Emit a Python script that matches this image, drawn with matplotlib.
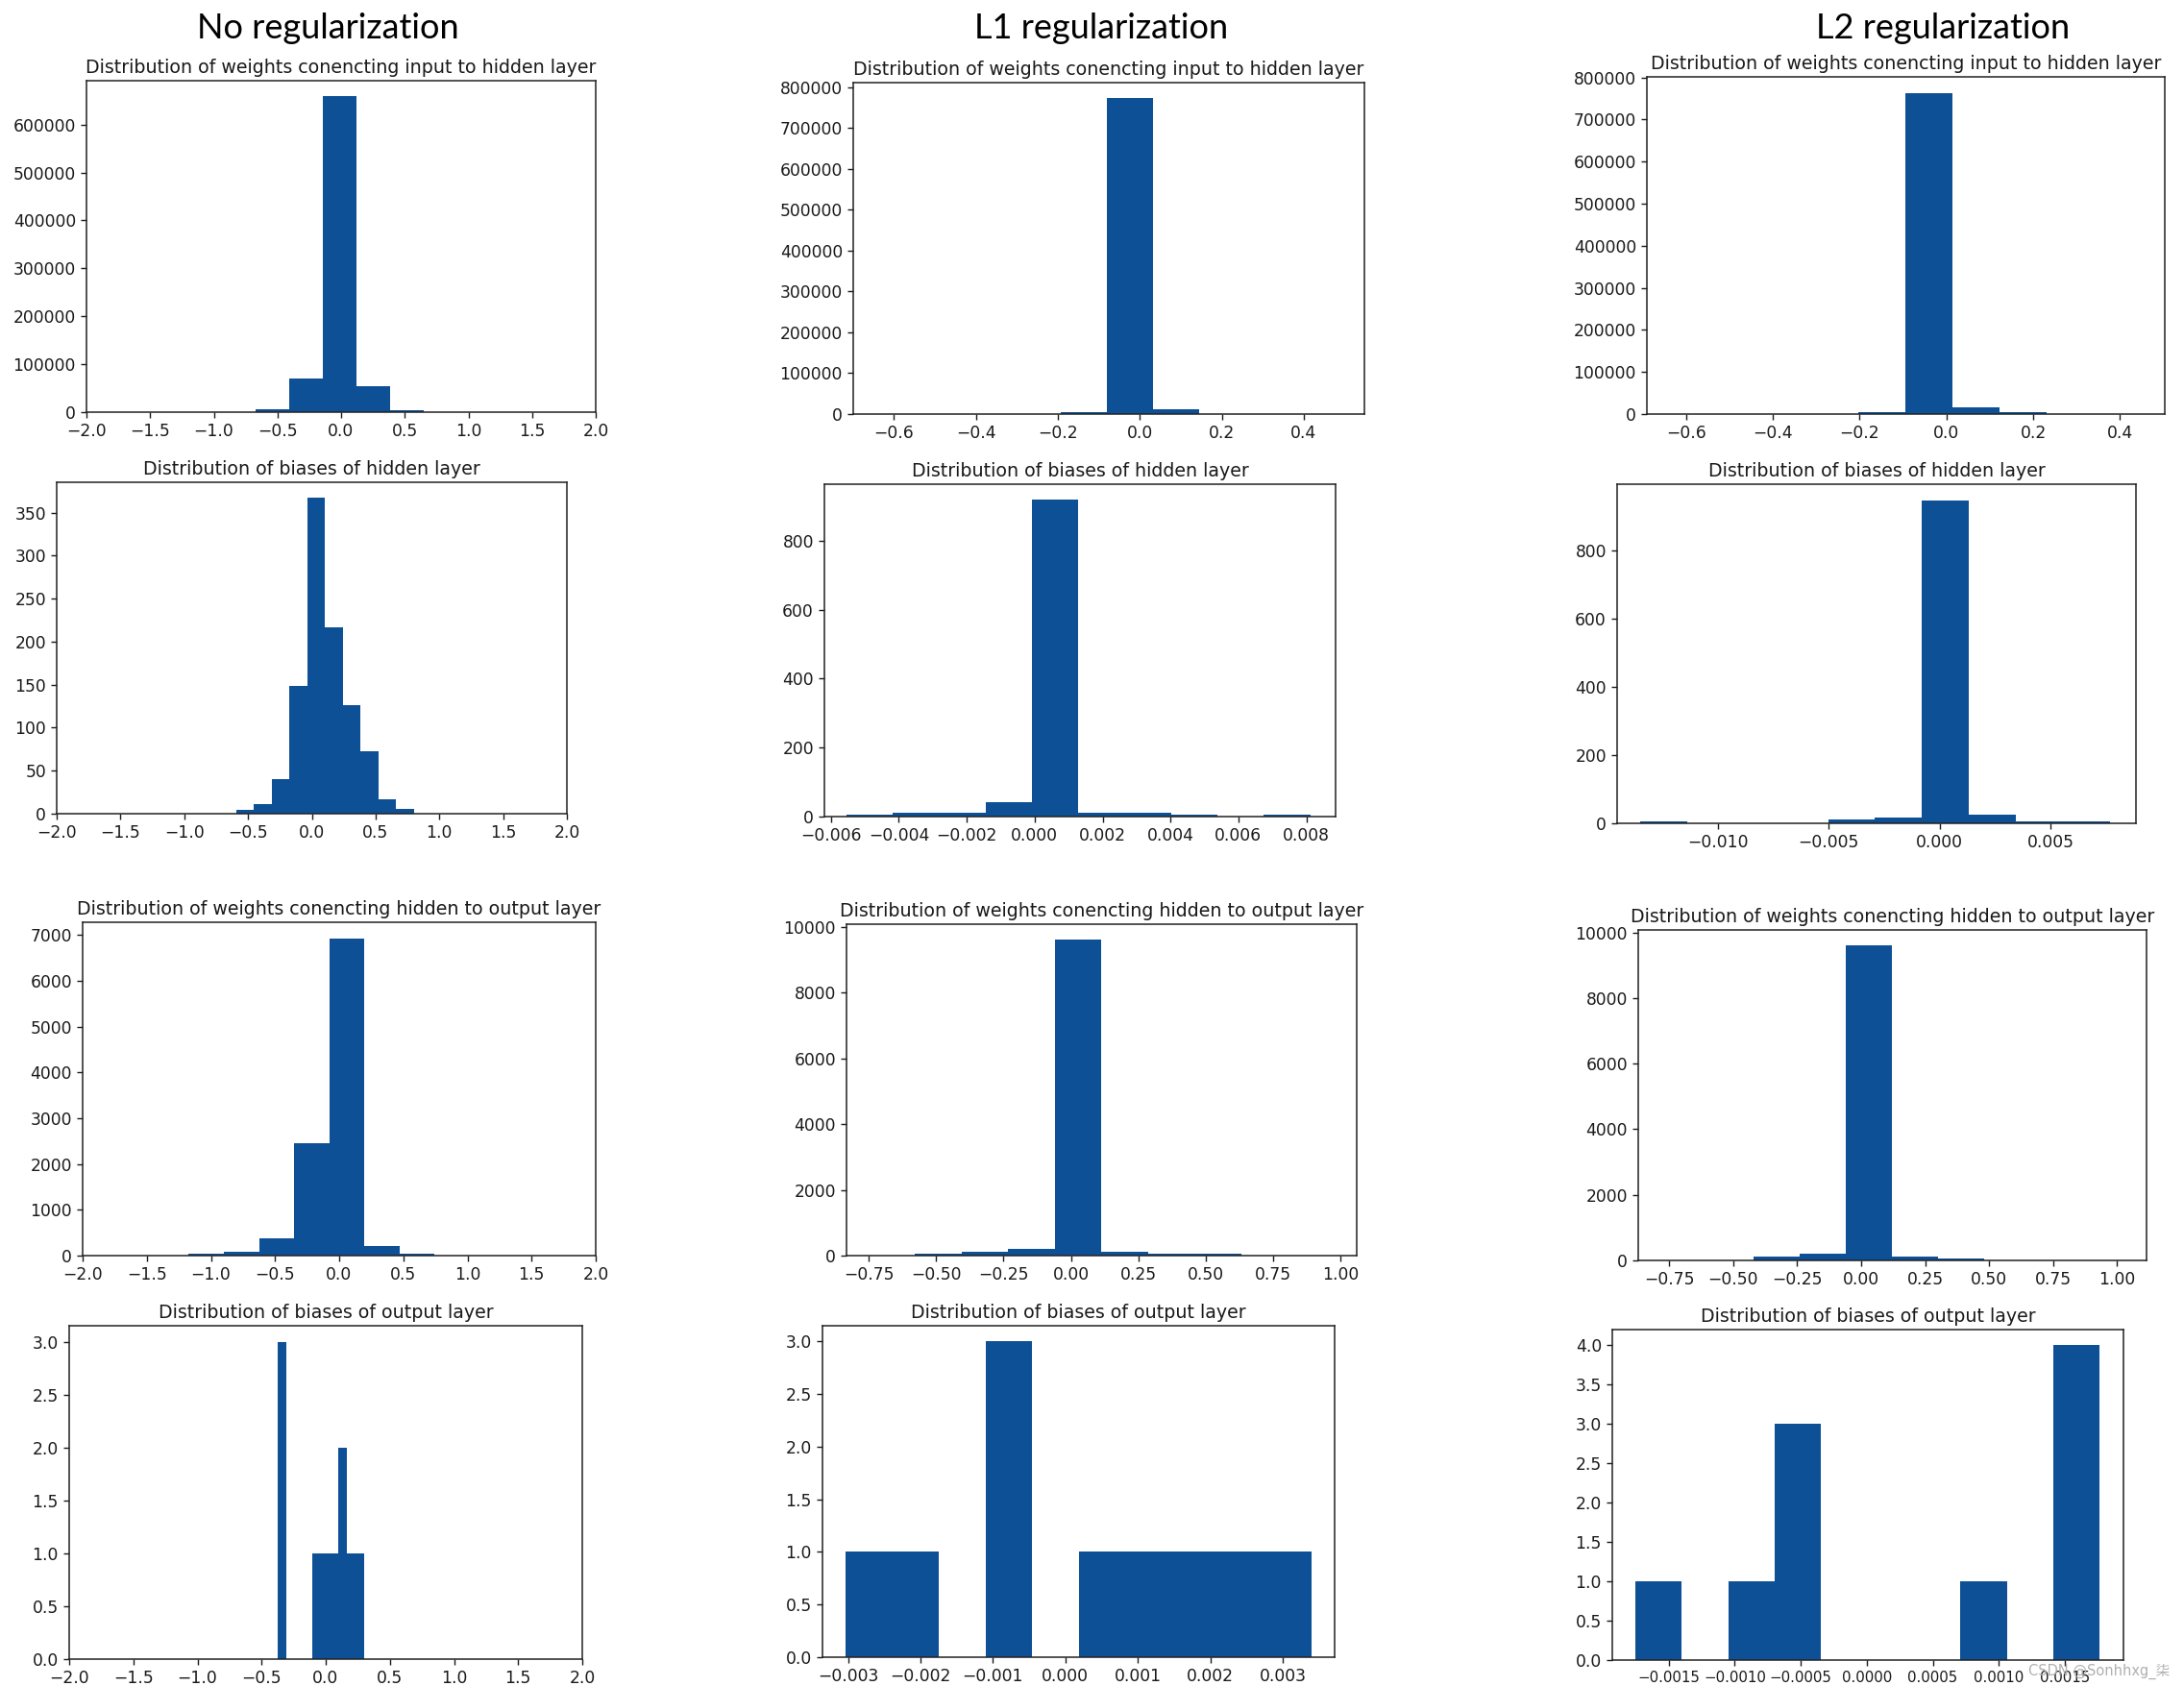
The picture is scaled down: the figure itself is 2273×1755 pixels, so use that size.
import numpy as np
import matplotlib
matplotlib.use("Agg")
import matplotlib.pyplot as plt

# ---------------- data ----------------
col_headers = ["No regularization", "L1 regularization", "L2 regularization"]
titles = ["Distribution of weights conencting input to hidden layer",
          "Distribution of biases of hidden layer",
          "Distribution of weights conencting hidden to output layer",
          "Distribution of biases of output layer"]

# No regularization
nr_w1_edges = [-0.674, -0.410, -0.145, 0.119, 0.384, 0.648]
nr_w1_counts = [6700, 70800, 658700, 54800, 4000]
nr_b1_edges = [-0.591, -0.452, -0.313, -0.174, -0.035, 0.104, 0.243, 0.382, 0.521, 0.660, 0.799]
nr_b1_counts = [4, 11, 40, 148, 367, 217, 126, 73, 17, 6]
nr_w2_edges = [-1.173, -0.899, -0.625, -0.351, -0.077, 0.197, 0.471, 0.745]
nr_w2_counts = [42, 84, 385, 2453, 6931, 217, 42]
nr_b2_edges = [-0.378, -0.310, -0.242, -0.174, -0.106, -0.039, 0.029, 0.097, 0.165, 0.233, 0.301]
nr_b2_counts = [3, 0, 0, 0, 1, 1, 1, 2, 1, 1]

# L1 regularization
l1_w1_edges = [-0.193, -0.080, 0.033, 0.146]
l1_w1_counts = [4700, 772700, 11800]
l1_b1_edges = [-0.00555, -0.00418, -0.00282, -0.00145, -0.00008, 0.00128,
               0.00265, 0.00402, 0.00538, 0.00675, 0.00812]
l1_b1_counts = [5, 10, 10, 41, 918, 10, 10, 5, 0, 5]
l1_w2_edges = [-0.579, -0.406, -0.233, -0.060, 0.113, 0.286, 0.459, 0.632]
l1_w2_counts = [55, 107, 205, 9610, 107, 59, 59]
l1_b2_edges = [-0.003032, -0.002389, -0.001747, -0.001104, -0.000462, 0.000181,
               0.000824, 0.001466, 0.002109, 0.002751, 0.003394]
l1_b2_counts = [1, 1, 0, 3, 0, 1, 1, 1, 1, 1]

# L2 regularization
l2_w1_edges = [-0.204, -0.0955, 0.013, 0.1215, 0.230]
l2_w1_counts = [4600, 763300, 16700, 4600]
l2_b1_edges = [-0.013502, -0.011383, -0.009264, -0.007146, -0.005027, -0.002908,
               -0.000789, 0.001330, 0.003448, 0.005567, 0.007686]
l2_b1_counts = [5, 0, 0, 0, 11, 18, 948, 26, 5, 5]
l2_w2_edges = [-0.420, -0.240, -0.060, 0.120, 0.300, 0.480]
l2_w2_counts = [117, 205, 9599, 117, 68]
l2_b2_edges = [-0.001752, -0.001400, -0.001049, -0.000697, -0.000346, 0.000006,
               0.000357, 0.000708, 0.001060, 0.001411, 0.001763]
l2_b2_counts = [1, 0, 1, 3, 0, 0, 0, 1, 0, 4]

# axis ranges and ticks
x_wide = (-2.0, 2.0)
xt_wide = [-2.0, -1.5, -1.0, -0.5, 0.0, 0.5, 1.0, 1.5, 2.0]
xt_w1 = [-0.6, -0.4, -0.2, 0.0, 0.2, 0.4]
xt_l1_b1 = [-0.006, -0.004, -0.002, 0.000, 0.002, 0.004, 0.006, 0.008]
xt_l2_b1 = [-0.010, -0.005, 0.000, 0.005]
xt_w2 = [-0.75, -0.50, -0.25, 0.00, 0.25, 0.50, 0.75, 1.00]
xt_l1_b2 = [-0.003, -0.002, -0.001, 0.000, 0.001, 0.002, 0.003]
xt_l2_b2 = [-0.0015, -0.0010, -0.0005, 0.0000, 0.0005, 0.0010, 0.0015]

yt_nr_w1 = [0, 100000, 200000, 300000, 400000, 500000, 600000]
yt_w1 = [0, 100000, 200000, 300000, 400000, 500000, 600000, 700000, 800000]
yt_nr_b1 = [0, 50, 100, 150, 200, 250, 300, 350]
yt_b1 = [0, 200, 400, 600, 800]
yt_nr_w2 = [0, 1000, 2000, 3000, 4000, 5000, 6000, 7000]
yt_w2 = [0, 2000, 4000, 6000, 8000, 10000]
yt_b2 = [0.0, 0.5, 1.0, 1.5, 2.0, 2.5, 3.0]
yt_l2_b2 = [0.0, 0.5, 1.0, 1.5, 2.0, 2.5, 3.0, 3.5, 4.0]

# ---------------- figure ----------------
W, H = 2273, 1755
fig = plt.figure(figsize=(W / 100, H / 100), dpi=100)
fig.patch.set_facecolor("white")

BAR = "#0e5096"
TXT = "#1a1a1a"

def add_panel(box, edges, counts, xlim, xticks, yticks, title, xlabsize=12.3):
    l, t, r, b = box
    ax = fig.add_axes([l / W, 1 - b / H, (r - l) / W, (b - t) / H])
    ax.hist(edges[:-1], bins=edges, weights=counts, color=BAR, edgecolor="none")
    ax.set_xlim(*xlim)
    ax.set_xticks(xticks)
    ax.set_yticks(yticks)
    ax.set_title(title, fontsize=13.7, color=TXT, pad=6)
    ax.tick_params(labelsize=12.3, colors=TXT, length=4.5, width=1.0)
    ax.tick_params(axis="x", labelsize=xlabsize)
    for s in ax.spines.values():
        s.set_linewidth(1.1)
        s.set_color("#222222")
    return ax

# boxes in pixels: left, top, right, bottom
panels = [
    ((90, 84, 620, 429), nr_w1_edges, nr_w1_counts, x_wide, xt_wide, yt_nr_w1, titles[0]),
    ((888, 86, 1420, 431), l1_w1_edges, l1_w1_counts, (-0.699, 0.548), xt_w1, yt_w1, titles[0]),
    ((1714, 80, 2253, 431), l2_w1_edges, l2_w1_counts, (-0.690, 0.503), xt_w1, yt_w1, titles[0]),
    ((59, 502, 590, 847), nr_b1_edges, nr_b1_counts, x_wide, xt_wide, yt_nr_b1, titles[1]),
    ((858, 504, 1390, 850), l1_b1_edges, l1_b1_counts, (-0.00619, 0.00886), xt_l1_b1, yt_b1, titles[1]),
    ((1683, 504, 2223, 857), l2_b1_edges, l2_b1_counts, (-0.014528, 0.008843), xt_l2_b1, yt_b1, titles[1]),
    ((86, 960, 620, 1307), nr_w2_edges, nr_w2_counts, x_wide, xt_wide, yt_nr_w2, titles[2]),
    ((881, 962, 1412, 1307), l1_w2_edges, l1_w2_counts, (-0.833, 1.0605), xt_w2, yt_w2, titles[2]),
    ((1705, 968, 2234, 1312), l2_w2_edges, l2_w2_counts, (-0.871, 1.115), xt_w2, yt_w2, titles[2]),
    ((72, 1380, 606, 1727), nr_b2_edges, nr_b2_counts, x_wide, xt_wide, yt_b2, titles[3]),
    ((856, 1380, 1389, 1725), l1_b2_edges, l1_b2_counts, (-0.003353, 0.003715), xt_l1_b2, yt_b2, titles[3]),
    ((1678, 1384, 2210, 1728), l2_b2_edges, l2_b2_counts, (-0.001927, 0.001944), xt_l2_b2, yt_l2_b2, titles[3], 10.8),
]

for p in panels:
    add_panel(*p)

header_x = [341, 1146, 2022]
for hx, txt in zip(header_x, col_headers):
    fig.text(hx / W, 1 - 30 / H, txt, ha="center", va="center",
             fontsize=26, family=["Lato", "DejaVu Sans"], color="black")

fig.text(2185 / W, 1 - 1740 / H, "CSDN @Sonhhxg_柒", ha="center", va="center",
         fontsize=10.5, color="#b0b0b0",
         family=["DejaVu Sans", "Noto Sans CJK SC"])

fig.savefig("out.png", dpi=100, facecolor="white")
